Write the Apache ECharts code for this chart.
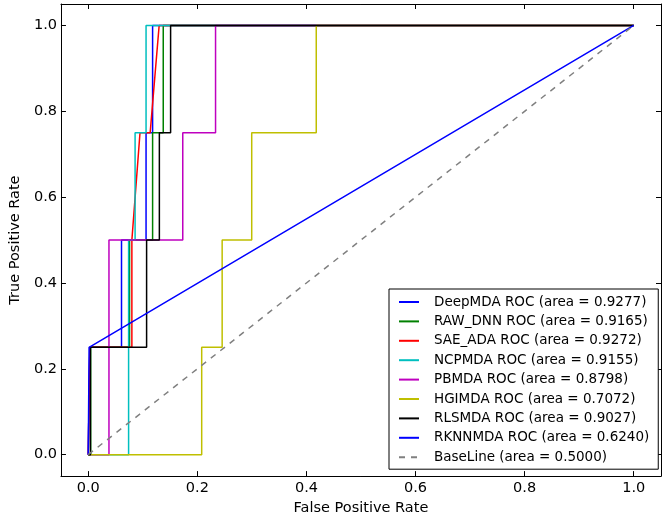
<!DOCTYPE html>
<html>
<head>
<meta charset="utf-8">
<script src="https://cdn.jsdelivr.net/npm/echarts@6/dist/echarts.min.js"></script>
<style>html,body{margin:0;padding:0;background:#fff}#c{width:666px;height:521px}</style>
</head>
<body>
<div id="c"></div>
<script>
// Tick values
const tickValues = [0, 0.2, 0.4, 0.6, 0.8, 1.0];

// Curve names
const names = [
  'DeepMDA ROC (area = 0.9277)',
  'RAW_DNN ROC (area = 0.9165)',
  'SAE_ADA ROC (area = 0.9272)',
  'NCPMDA ROC (area = 0.9155)',
  'PBMDA ROC (area = 0.8798)',
  'HGIMDA ROC (area = 0.7072)',
  'RLSMDA ROC (area = 0.9027)',
  'RKNNMDA ROC (area = 0.6240)',
  'BaseLine (area = 0.5000)'
];

// ROC points (FPR, TPR)
const deepFpr = [0, 0.003, 0.003, 0.061, 0.061, 0.106, 0.106, 0.118, 0.118, 1];
const deepTpr = [0, 0, 0.25, 0.25, 0.5, 0.5, 0.75, 0.75, 1, 1];
const rawFpr = [0, 0.0045, 0.0045, 0.0757, 0.0757, 0.118, 0.118, 0.1375, 0.1375, 1];
const rawTpr = [0, 0, 0.25, 0.25, 0.5, 0.5, 0.75, 0.75, 1, 1];
const saeFpr = [0, 0.003, 0.003, 0.080, 0.080, 0.0949, 0.1135, 0.130, 1];
const saeTpr = [0, 0, 0.25, 0.25, 0.5, 0.75, 0.75, 1, 1];
const ncpFpr = [0, 0.074, 0.074, 0.0859, 0.0859, 0.1060, 0.1060, 1];
const ncpTpr = [0, 0, 0.5, 0.5, 0.75, 0.75, 1, 1];
const pbFpr = [0, 0.038, 0.038, 0.1733, 0.1733, 0.2334, 0.2334, 1];
const pbTpr = [0, 0, 0.5, 0.5, 0.75, 0.75, 1, 1];
const hgiFpr = [0, 0.208, 0.208, 0.2455, 0.2455, 0.2997, 0.2997, 0.418, 0.418, 1];
const hgiTpr = [0, 0, 0.25, 0.25, 0.5, 0.5, 0.75, 0.75, 1, 1];
const rlsFpr = [0, 0.004, 0.004, 0.107, 0.107, 0.1304, 0.1304, 0.151, 0.151, 1];
const rlsTpr = [0, 0, 0.25, 0.25, 0.5, 0.5, 0.75, 0.75, 1, 1];
const rknnFpr = [0, 0.0016, 0.0016, 1];
const rknnTpr = [0, 0, 0.25, 1];
const baseFpr = [0, 1];
const baseTpr = [0, 1];

const colors = ['#0000ff', '#008000', '#ff0000', '#00bfbf', '#bf00bf', '#bfbf00', '#000000', '#0000ff', '#808080'];
const fprs = [deepFpr, rawFpr, saeFpr, ncpFpr, pbFpr, hgiFpr, rlsFpr, rknnFpr, baseFpr];
const tprs = [deepTpr, rawTpr, saeTpr, ncpTpr, pbTpr, hgiTpr, rlsTpr, rknnTpr, baseTpr];

const FONT = 'DejaVu Sans';
const chart = echarts.init(document.getElementById('c'), null, {renderer: 'canvas'});

function axisCommon(extra) {
  return Object.assign({
    type: 'value', min: -0.05, max: 1.05,
    axisLine: {show: true, onZero: false, lineStyle: {color: '#000', width: 1}},
    axisTick: {show: true, inside: true, length: 5, customValues: tickValues, lineStyle: {color: '#000'}},
    splitLine: {show: false}
  }, extra);
}

const series = names.map((n, i) => ({
  name: n,
  type: 'line',
  symbol: 'none',
  showSymbol: false,
  animation: false,
  z: 2 + i,
  lineStyle: {color: colors[i], width: 1.5, type: i === 8 ? [6, 6] : 'solid'},
  itemStyle: {color: colors[i], opacity: 0},
  data: fprs[i].map((x, k) => [x, tprs[i][k]])
}));

chart.setOption({
  animation: false,
  backgroundColor: '#fff',
  grid: {left: 53, right: 5, top: 4, bottom: 44},
  xAxis: [
    axisCommon({
      position: 'bottom',
      name: 'False Positive Rate', nameLocation: 'middle', nameGap: 21,
      nameTextStyle: {fontFamily: FONT, fontSize: 14.5, color: '#000'},
      axisLabel: {show: true, customValues: tickValues, margin: 5, fontFamily: FONT, fontSize: 14.5, color: '#000',
        formatter: v => v.toFixed(1)}
    }),
    axisCommon({position: 'top', axisLabel: {show: false}})
  ],
  yAxis: [
    axisCommon({
      position: 'left',
      name: 'True Positive Rate', nameLocation: 'middle', nameGap: 31, nameRotate: 90,
      nameTextStyle: {fontFamily: FONT, fontSize: 14.5, color: '#000'},
      axisLabel: {show: true, customValues: tickValues, margin: 4, fontFamily: FONT, fontSize: 14.5, color: '#000',
        formatter: v => v.toFixed(1)}
    }),
    axisCommon({position: 'right', axisLabel: {show: false}})
  ],
  legend: {
    data: names,
    orient: 'vertical',
    left: 389, top: 289,
    padding: [6, 9, 5, 9],
    itemWidth: 20, itemHeight: 14, itemGap: 5.4,
    borderColor: '#000', borderWidth: 1,
    backgroundColor: '#fff',
    selectedMode: false,
    itemStyle: {opacity: 0},
    z: 20,
    textStyle: {fontFamily: FONT, fontSize: 13.5, color: '#000', padding: [0, 0, 0, 10]}
  },
  series: series
});
</script>
</body>
</html>
